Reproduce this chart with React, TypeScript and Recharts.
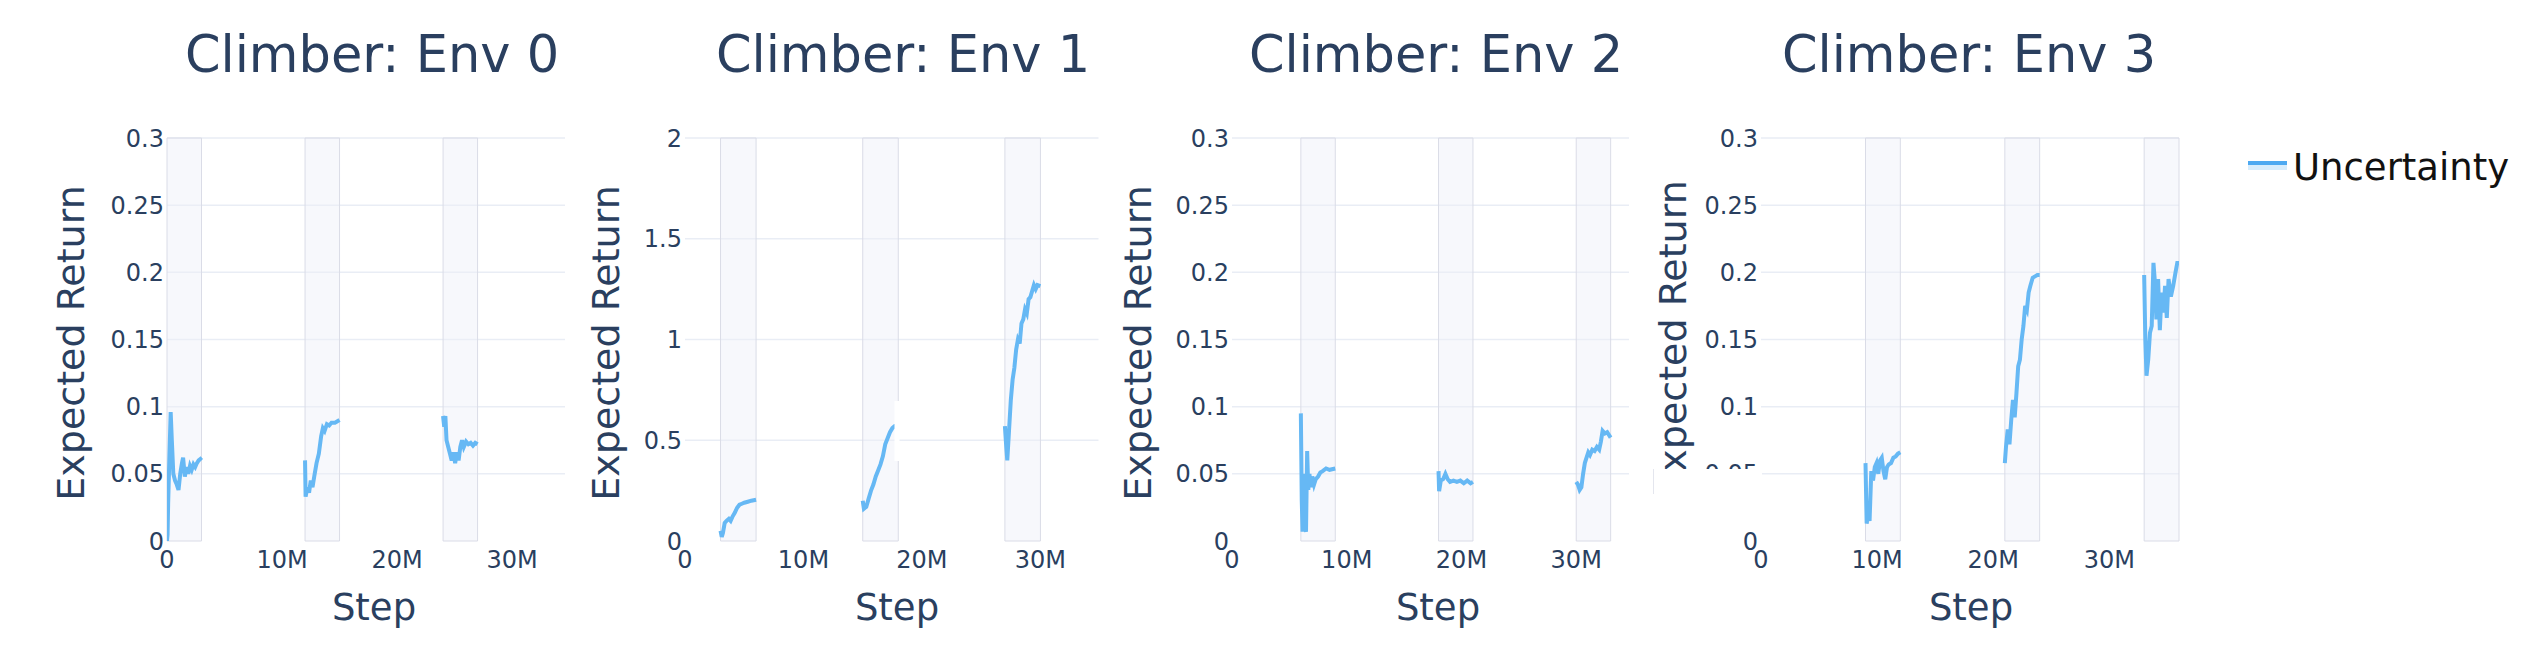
import React from 'react';
import { LineChart, Line, XAxis, YAxis, CartesianGrid, ReferenceArea } from 'recharts';

// ---------- data (steps in millions) ----------
const envTitles = ['Climber: Env 0', 'Climber: Env 1', 'Climber: Env 2', 'Climber: Env 3'];
const xTicks = [0, 10e6, 20e6, 30e6];
const yTicksSmall = [0, 0.05, 0.1, 0.15, 0.2, 0.25, 0.3];
const yTicksLarge = [0, 0.5, 1, 1.5, 2];
const xMaxM = [34.6, 34.9, 34.6, 36];

const shaded0 = [[0, 3], [12, 15], [24, 27]];
const shaded1 = [[3, 6], [15, 18], [27, 30]];
const shaded2 = [[6, 9], [18, 21], [30, 33]];
const shaded3 = [[9, 12], [21, 24], [33, 36]];

const env0Steps = [
  [0, 0.05, 0.1, 0.2, 0.32, 0.42, 0.55, 0.7, 0.85, 1.0, 1.15, 1.3, 1.4, 1.55, 1.7, 1.85, 2.0, 2.15, 2.3, 2.45, 2.6, 2.75, 2.9, 3.0],
  [12.0, 12.05, 12.2, 12.35, 12.5, 12.65, 12.8, 13.0, 13.2, 13.4, 13.55, 13.7, 13.9, 14.1, 14.3, 14.6, 15.0],
  [24.0, 24.1, 24.2, 24.3, 24.45, 24.6, 24.75, 24.9, 25.05, 25.2, 25.35, 25.5, 25.65, 25.8, 26.0, 26.2, 26.4, 26.6, 26.8, 27.0],
];
const env0Values = [
  [0.0, 0.005, 0.028, 0.06, 0.096, 0.075, 0.05, 0.045, 0.042, 0.038, 0.05, 0.058, 0.062, 0.048, 0.055, 0.05, 0.056, 0.053, 0.057, 0.055, 0.058, 0.06, 0.061, 0.06],
  [0.06, 0.033, 0.04, 0.036, 0.045, 0.04, 0.048, 0.058, 0.065, 0.078, 0.084, 0.082, 0.087, 0.086, 0.088, 0.088, 0.09],
  [0.093, 0.085, 0.093, 0.075, 0.07, 0.065, 0.06, 0.066, 0.058, 0.066, 0.06, 0.07, 0.075, 0.07, 0.074, 0.072, 0.073, 0.071, 0.073, 0.072],
];

const env1Steps = [
  [3.0, 3.1, 3.2, 3.35, 3.5, 3.7, 3.85, 4.0, 4.2, 4.4, 4.6, 4.8, 5.0, 5.3, 5.6, 6.0],
  [15.0, 15.1, 15.3, 15.5, 15.7, 15.9, 16.1, 16.3, 16.5, 16.7, 16.9, 17.1, 17.3, 17.5, 17.7, 18.0],
  [27.0, 27.1, 27.2, 27.35, 27.5, 27.65, 27.8, 27.95, 28.1, 28.25, 28.4, 28.55, 28.7, 28.85, 29.0, 29.15, 29.3, 29.45, 29.6, 29.75, 30.0],
];
const env1Values = [
  [0.05, 0.02, 0.04, 0.09, 0.1, 0.11, 0.1, 0.12, 0.14, 0.165, 0.18, 0.185, 0.19, 0.195, 0.2, 0.205],
  [0.2, 0.16, 0.17, 0.21, 0.25, 0.28, 0.32, 0.35, 0.38, 0.42, 0.48, 0.51, 0.54, 0.56, 0.57, 0.575],
  [0.57, 0.48, 0.4, 0.55, 0.7, 0.8, 0.86, 0.95, 1.0, 0.98, 1.08, 1.1, 1.15, 1.13, 1.2, 1.21, 1.24, 1.27, 1.25, 1.27, 1.265],
];

const env2Steps = [
  [6.0, 6.08, 6.15, 6.25, 6.35, 6.45, 6.55, 6.65, 6.75, 6.85, 7.0, 7.15, 7.3, 7.5, 7.7, 7.9, 8.2, 8.5, 9.0],
  [18.0, 18.05, 18.2, 18.4, 18.6, 18.8, 19.0, 19.3, 19.6, 19.9, 20.2, 20.5, 20.8, 21.0],
  [30.0, 30.15, 30.3, 30.45, 30.6, 30.75, 30.9, 31.05, 31.2, 31.4, 31.6, 31.8, 32.0, 32.15, 32.3, 32.5, 32.7, 33.0],
];
const env2Values = [
  [0.095, 0.03, 0.007, 0.05, 0.01, 0.007, 0.067, 0.038, 0.05, 0.04, 0.048, 0.042, 0.046, 0.048, 0.051, 0.052, 0.054, 0.053, 0.054],
  [0.052, 0.037, 0.045, 0.046, 0.05, 0.046, 0.044, 0.045, 0.044, 0.045, 0.043, 0.045, 0.043, 0.044],
  [0.044, 0.042, 0.038, 0.04, 0.05, 0.058, 0.062, 0.066, 0.064, 0.068, 0.067, 0.07, 0.068, 0.074, 0.082, 0.08, 0.081, 0.077],
];

const env3Steps = [
  [9.0, 9.1, 9.25, 9.35, 9.5, 9.65, 9.8, 9.95, 10.1, 10.25, 10.4, 10.55, 10.7, 10.85, 11.0, 11.2, 11.4, 11.6, 11.8, 12.0],
  [21.0, 21.1, 21.25, 21.4, 21.55, 21.7, 21.85, 22.0, 22.15, 22.3, 22.45, 22.6, 22.75, 22.9, 23.05, 23.2, 23.4, 23.6, 23.8, 24.0],
  [33.0, 33.1, 33.2, 33.35, 33.5, 33.65, 33.8, 33.95, 34.05, 34.2, 34.35, 34.5, 34.65, 34.8, 34.95, 35.1, 35.3, 35.5, 35.7, 35.85, 36.0],
];
const env3Values = [
  [0.058, 0.013, 0.02, 0.015, 0.052, 0.045, 0.055, 0.058, 0.05, 0.06, 0.062, 0.052, 0.046, 0.055, 0.057, 0.058, 0.062, 0.063, 0.065, 0.066],
  [0.058, 0.07, 0.083, 0.072, 0.09, 0.105, 0.092, 0.11, 0.13, 0.135, 0.15, 0.16, 0.175, 0.172, 0.185, 0.19, 0.196, 0.197, 0.198, 0.198],
  [0.198, 0.15, 0.123, 0.135, 0.155, 0.16, 0.207, 0.19, 0.165, 0.195, 0.157, 0.185, 0.17, 0.19, 0.166, 0.195, 0.182, 0.19, 0.2, 0.207, 0.207],
];

const allSteps = [env0Steps, env1Steps, env2Steps, env3Steps];
const allValues = [env0Values, env1Values, env2Values, env3Values];
const allShaded = [shaded0, shaded1, shaded2, shaded3];
const allYTicks = [yTicksSmall, yTicksLarge, yTicksSmall, yTicksSmall];

// ---------- layout ----------
const FONT = '"DejaVu Sans", Verdana, sans-serif';
const TEXT = '#2a3f5f';
const LINE = '#66B8F4';
const PLOT_TOP = 138;
const PLOT_BOTTOM = 541;
const H = 672;
const YW = 110;

const panels = [
  { left: 167, right: 565, titleX: 372, stepX: 374, yTitleX: 84, yTitleY: 343 },
  { left: 684.5, right: 1098, titleX: 903, stepX: 897, yTitleX: 619, yTitleY: 343 },
  { left: 1232, right: 1629, titleX: 1436, stepX: 1438, yTitleX: 1151, yTitleY: 343 },
  { left: 1761, right: 2179, titleX: 1969, stepX: 1971, yTitleX: 1686, yTitleY: 338 },
];

const fmtX = (v: number) => (v === 0 ? '0' : `${Math.round(v / 1e6)}M`);
const fmtY = (v: number) => String(v);

function Panel({ i }: { i: number }) {
  const p = panels[i];
  const width = YW + (p.right - p.left) + 6;
  const yTicks = allYTicks[i];
  const segments = allSteps[i].map((steps, s) =>
    steps.map((m, k) => ({ x: m * 1e6, y: allValues[i][s][k] }))
  );
  const tickStyle = { fill: TEXT, fontSize: 24, fontFamily: FONT };
  return (
    <div style={{ position: 'absolute', left: p.left - YW, top: 0 }}>
      <LineChart width={width} height={H} margin={{ top: PLOT_TOP, right: 6, bottom: 0, left: 0 }}>
        <CartesianGrid
          horizontal
          vertical={false}
          stroke="#E9EDF5"
          strokeWidth={1.5}
          horizontalValues={yTicks.filter((t) => t !== 0)}
        />
        <XAxis
          type="number"
          dataKey="x"
          domain={[0, xMaxM[i] * 1e6]}
          ticks={xTicks}
          interval={0}
          tickFormatter={fmtX}
          axisLine={false}
          tickLine={false}
          tickSize={0}
          tickMargin={10}
          height={H - PLOT_BOTTOM}
          tick={tickStyle}
          allowDataOverflow
        />
        <YAxis
          type="number"
          domain={[0, yTicks[yTicks.length - 1]]}
          ticks={yTicks}
          interval={0}
          tickFormatter={fmtY}
          axisLine={false}
          tickLine={false}
          tickSize={0}
          tickMargin={3}
          width={YW}
          tick={tickStyle}
          allowDataOverflow
        />
        {allShaded[i].map(([a, b], k) => (
          <ReferenceArea
            key={k}
            x1={a * 1e6}
            x2={b * 1e6}
            fill="#EEF0F8"
            fillOpacity={0.45}
            stroke="#DADCE7"
            strokeWidth={1}
            ifOverflow="visible"
          />
        ))}
        {segments.map((seg, k) => (
          <Line
            key={k}
            data={seg}
            dataKey="y"
            type="linear"
            stroke={LINE}
            strokeWidth={4}
            dot={false}
            activeDot={false}
            isAnimationActive={false}
          />
        ))}
      </LineChart>
    </div>
  );
}

export default function App() {
  return (
    <div style={{ position: 'absolute', left: 0, top: 0, width: 2542, height: H, background: '#fff', fontFamily: FONT }}>
      {panels.map((_, i) => (
        <Panel key={i} i={i} />
      ))}
      <svg width={2542} height={H} style={{ position: 'absolute', left: 0, top: 0, pointerEvents: 'none' }}>
        {panels.map((p, i) => (
          <g key={i}>
            <text x={p.titleX} y={72} textAnchor="middle" fontSize={51} fill={TEXT} fontFamily={FONT}>
              {envTitles[i]}
            </text>
            <text x={p.stepX} y={620} textAnchor="middle" fontSize={37} fill={TEXT} fontFamily={FONT}>
              Step
            </text>
            <text
              x={p.yTitleX}
              y={p.yTitleY}
              textAnchor="middle"
              fontSize={38}
              fill={TEXT}
              fontFamily={FONT}
              transform={`rotate(-90, ${p.yTitleX}, ${p.yTitleY})`}
            >
              Expected Return
            </text>
          </g>
        ))}
        {/* overlapping white boxes seen in the original export */}
        <rect x={1653} y={469} width={109} height={25} fill="#fff" />
        <line x1={1653.5} y1={469} x2={1653.5} y2={494} stroke="#E4E6EE" strokeWidth={1} />
        <rect x={894.5} y={401} width={5} height={60} fill="#fff" />
        {/* legend */}
        <line x1={2248} y1={163} x2={2287} y2={163} stroke="#4DA9F1" strokeWidth={4} />
        <rect x={2248} y={165} width={39} height={5} fill="#D6ECFC" />
        <text x={2293} y={180} fontSize={37} fill="#111" fontFamily={FONT}>
          Uncertainty
        </text>
      </svg>
    </div>
  );
}
